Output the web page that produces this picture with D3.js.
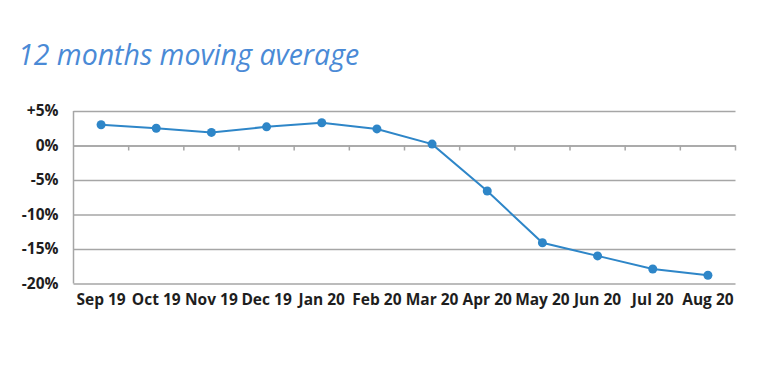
<!DOCTYPE html>
<html>
<head>
<meta charset="utf-8">
<script src="https://cdn.jsdelivr.net/npm/d3@7"></script>
<style>
  body { margin: 0; background: #fff; }
  svg { display: block; }
</style>
</head>
<body>
<svg id="chart" width="760" height="391"></svg>
<script>
// data
let months = ["Sep 19", "Oct 19", "Nov 19", "Dec 19", "Jan 20", "Feb 20",
  "Mar 20", "Apr 20", "May 20", "Jun 20", "Jul 20", "Aug 20"];
let avgChange = [3.0, 2.5, 1.9, 2.7, 3.3, 2.4, 0.2, -6.6, -14.1, -16.0, -17.9, -18.8];
let yTicks = [5, 0, -5, -10, -15, -20];

let svg = d3.select("#chart");
let plotLeft = 73.5, plotRight = 735.5, plotTop = 111, plotBottom = 283.5;
let labelFont = "Liberation Sans Narrow, Open Sans, sans-serif";

svg.append("text")
  .attr("x", 18)
  .attr("y", 65)
  .attr("font-family", "Open Sans, sans-serif")
  .attr("font-style", "italic")
  .attr("font-size", 28.5)
  .attr("fill", "#4a8ad6")
  .text("12 months moving average");

let xScale = d3.scaleBand()
  .domain(months)
  .range([plotLeft, plotRight]);
let yScale = d3.scaleLinear()
  .domain([-20, 5])
  .range([plotBottom, plotTop]);

// gridlines
let grid = d3.axisLeft(yScale)
  .tickValues(yTicks)
  .tickSize(-(plotRight - plotLeft))
  .tickFormat(d => d > 0 ? "+" + d + "%" : d + "%");
let gy = svg.append("g")
  .attr("transform", "translate(" + plotLeft + ",0)")
  .call(grid);
gy.select(".domain").remove();
gy.selectAll("line").attr("stroke", "#a6a6a6").attr("stroke-width", 1.5);
gy.selectAll("text")
  .attr("x", -15)
  .attr("font-family", labelFont)
  .attr("font-weight", 700)
  .attr("font-size", 15.5)
  .attr("fill", "#1e1e1e");

// left axis line
svg.append("line")
  .attr("x1", plotLeft).attr("x2", plotLeft)
  .attr("y1", plotTop).attr("y2", plotBottom)
  .attr("stroke", "#a6a6a6").attr("stroke-width", 1.5);

// zero axis with category ticks
let xAxis = d3.axisBottom(xScale).tickSize(0).tickFormat("");
let gx = svg.append("g")
  .attr("transform", "translate(0," + yScale(0) + ")")
  .call(xAxis);
gx.select(".domain").attr("stroke", "#a6a6a6").attr("stroke-width", 1.5);
gx.selectAll(".tick").remove();
gx.selectAll(".sep")
  .data(months)
  .enter().append("line")
  .attr("class", "sep")
  .attr("x1", d => xScale(d) + xScale.bandwidth())
  .attr("x2", d => xScale(d) + xScale.bandwidth())
  .attr("y1", 0).attr("y2", 5)
  .attr("stroke", "#a6a6a6").attr("stroke-width", 1.5);

// month labels under the chart
svg.append("g").selectAll("text")
  .data(months)
  .enter().append("text")
  .attr("x", d => xScale(d) + xScale.bandwidth() / 2)
  .attr("y", 305)
  .attr("text-anchor", "middle")
  .attr("font-family", labelFont)
  .attr("font-weight", 700)
  .attr("font-size", 15.5)
  .attr("fill", "#1e1e1e")
  .text(d => d);

let line = d3.line()
  .x((d, i) => xScale(months[i]) + xScale.bandwidth() / 2)
  .y(d => yScale(d));

svg.append("path")
  .datum(avgChange)
  .attr("d", line)
  .attr("fill", "none")
  .attr("stroke", "#2e86c8")
  .attr("stroke-width", 2);

svg.selectAll(".dot")
  .data(avgChange)
  .enter().append("circle")
  .attr("class", "dot")
  .attr("cx", (d, i) => xScale(months[i]) + xScale.bandwidth() / 2)
  .attr("cy", d => yScale(d))
  .attr("r", 4.5)
  .attr("fill", "#2e86c8");
</script>
</body>
</html>
